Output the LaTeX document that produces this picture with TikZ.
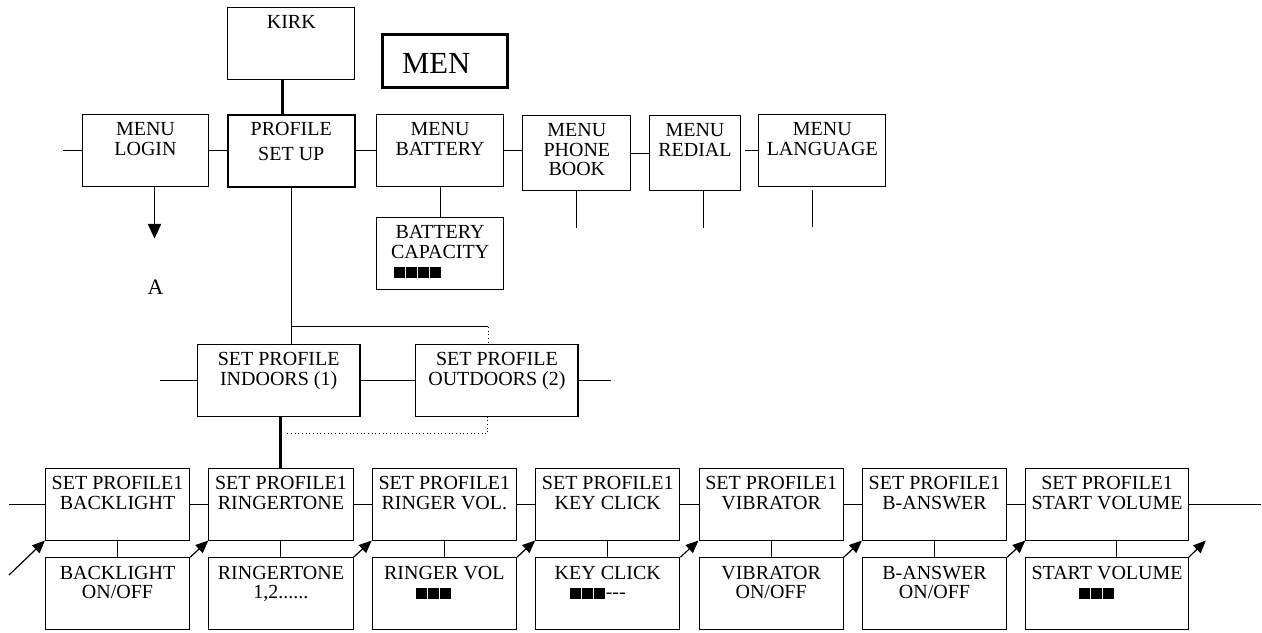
\documentclass[tikz,border=0pt]{standalone}
\usepackage{fontspec}
\setmainfont{Liberation Serif}
\usetikzlibrary{arrows.meta,positioning,calc}

\newcommand{\blocks}[1]{\foreach \k in {1,...,#1}{\rule{8.4pt}{8pt}\hspace{0.6pt}}}

\begin{document}
\begin{tikzpicture}[
    x=0.75pt,y=-0.75pt,
    every node/.style={font=\fontsize{15pt}{14.6pt}\selectfont},
    box/.style={rectangle,draw,line width=0.75pt,inner sep=0pt,minimum width=95pt,minimum height=54pt},
    cell/.style={box,minimum width=108.2pt,minimum height=53.8pt},
    txt/.style={label={[anchor=north,align=center,inner sep=0pt,yshift=-6.3pt]north:#1}},
    link/.style={line width=0.75pt},
    heavy/.style={line width=2.25pt},
    dots/.style={line width=0.75pt,dotted},
    arrow/.style={-{Triangle[length=9.5pt,width=8pt]},line width=0.9pt},
    node distance=13.6pt
]
\useasboundingbox (0,0) rectangle (1262,632);

\node[box,txt={MENU\\LOGIN}] (login) at (145.5,150.5) {};
\node[box,line width=1.5pt,right=13.2pt of login,txt={PROFILE\\[4.3pt]SET UP}] (setup) {};
\node[box,right=15.5pt of setup,txt={MENU\\BATTERY}] (battery) {};
\node[box,minimum width=81.2pt,minimum height=56.5pt,right=13.7pt of battery,yshift=-2.1pt,txt={MENU\\PHONE\\BOOK}] (phone) {};
\node[box,minimum width=67.7pt,minimum height=56.5pt,right=13.4pt of phone,txt={MENU\\REDIAL}] (redial) {};
\node[box,right=13.4pt of redial,yshift=2.1pt,txt={MENU\\LANGUAGE}] (language) {};
\node[box,above=25.5pt of setup,txt=KIRK] (kirk) {};
\node[box,below=22.5pt of battery,txt={BATTERY\\CAPACITY\\\blocks{4}\hspace*{33pt}}] (capacity) {};
\node[box,line width=2.25pt,minimum width=94pt,minimum height=40pt,
      label={[anchor=west,inner sep=0pt,xshift=15.5pt,yshift=-1.5pt,font=\fontsize{23pt}{26pt}\selectfont]west:MEN}] (men) at (445.25,61.3) {};
\node[font=\fontsize{16.5pt}{18pt}\selectfont] (a) at (155.5,287.3) {A};

\node[box,line width=1.2pt,minimum width=122pt,txt={SET PROFILE\\INDOORS (1)}] (indoors) at (278.65,380.5) {};
\node[box,line width=1.2pt,minimum width=122pt,right=40.5pt of indoors,txt={SET PROFILE\\OUTDOORS (2)}] (outdoors) {};

\node[cell,txt={SET PROFILE1\\BACKLIGHT}] (light) at (117.55,504.15) {};
\node[cell,right=of light,txt={SET PROFILE1\\RINGERTONE}] (tone) {};
\node[cell,right=of tone,txt={SET PROFILE1\\RINGER VOL.}] (vol) {};
\node[cell,right=of vol,txt={SET PROFILE1\\KEY CLICK}] (click) {};
\node[cell,right=of click,txt={SET PROFILE1\\VIBRATOR}] (vibr) {};
\node[cell,right=of vibr,txt={SET PROFILE1\\B-ANSWER}] (bans) {};
\node[cell,minimum width=121.9pt,right=of bans,txt={SET PROFILE1\\START VOLUME}] (svol) {};

\node[cell,below=12.5pt of light,txt={BACKLIGHT\\ON/OFF}] (light2) {};
\node[cell,below=12.5pt of tone,txt={RINGERTONE\\1,2......}] (tone2) {};
\node[cell,below=12.5pt of vol,txt={RINGER VOL\\\blocks{3}\hspace*{16pt}}] (vol2) {};
\node[cell,below=12.5pt of click,txt={KEY CLICK\\\blocks{3}-{}-{}-\hspace*{15pt}}] (click2) {};
\node[cell,below=12.5pt of vibr,txt={VIBRATOR\\ON/OFF}] (vibr2) {};
\node[cell,below=12.5pt of bans,txt={B-ANSWER\\ON/OFF}] (bans2) {};
\node[cell,minimum width=121.9pt,below=12.5pt of svol,txt={START VOLUME\\\blocks{3}\hspace*{15pt}}] (svol2) {};

\draw[heavy] ($(kirk.south)+(-9,0)$) -- ($(setup.north)+(-9,0)$);
\draw[link] (login.west) -- ++(-19,0);
\draw[link] (login) -- (setup);
\draw[link] (setup) -- (battery);
\draw[link] (battery.east) -- (battery.east -| phone.west);
\draw[link] (phone) -- (redial);
\draw[link] (language.west) -- ++(-13.4,0) coordinate (redialend);
\draw[link] (battery) -- (capacity);
\draw[link] (phone.south) -- ++(0,37);
\draw[link] ($(redial.south)+(9,0)$) -- ++(0,37);
\draw[link] ($(language.south)+(-9.5,3.3)$) -- ++(0,36.7);
\draw[link,-{Triangle[length=11pt,width=10pt]}] ($(login.south)+(9,0)$) -- ++(0,51.5);

\draw[link] (setup.south) -- (setup.south |- indoors.north);
\coordinate (fork) at ($(setup.south)+(0,139.4)$);
\draw[link] (fork) -- ($(fork -| outdoors.north)+(-8.7,0)$) coordinate (forkend);
\draw[dots] (forkend) -- (forkend |- outdoors.north);
\draw[link] (indoors.west) -- ++(-36.6,0);
\draw[link] (indoors) -- (outdoors);
\draw[link] (outdoors.east) -- ++(31.6,0);
\draw[heavy] (indoors.south -| tone.north) -- (tone.north);
\draw[dots] ($(indoors.south)+(8.7,16)$) -| ($(outdoors.south)+(-9,0)$);

\draw[link] (light.west) -- ++(-36,0);
\foreach \a/\b in {light/tone,tone/vol,vol/click,click/vibr,vibr/bans,bans/svol}
    \draw[link] (\a) -- (\b);
\draw[link] (svol.east) -- ++(72,0);
\foreach \n in {light,tone,vol,click,vibr,bans}
    \draw[link] (\n) -- (\n2);
\draw[link] ($(svol.south)+(9,0)$) -- ($(svol2.north)+(9,0)$);

\coordinate (entry) at (9,575);
\draw[arrow] (entry) -- (light.south west);
\foreach \a/\b in {light2/tone,tone2/vol,vol2/click,click2/vibr,vibr2/bans,bans2/svol}
    \draw[arrow] (\a.north east) -- (\b.south west);
\draw[arrow] (svol2.north east) -- ++(17,-16.7);
\end{tikzpicture}
\end{document}
